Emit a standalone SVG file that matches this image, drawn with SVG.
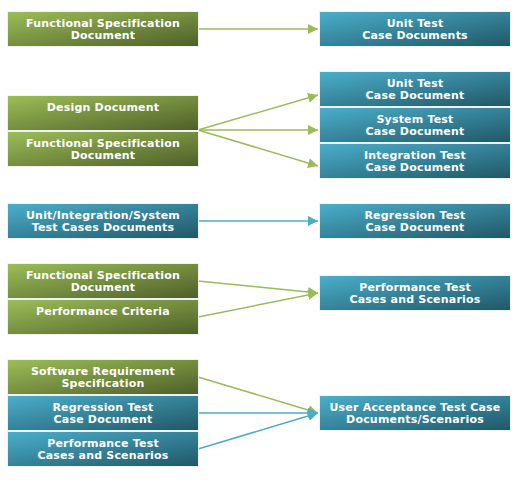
<svg xmlns="http://www.w3.org/2000/svg" width="519" height="489" viewBox="0 0 519 489">
<defs>
<linearGradient id="gG" x1="0" y1="0" x2="1" y2="1"><stop offset="0" stop-color="#9DBE58"/><stop offset="1" stop-color="#4E5F28"/></linearGradient>
<linearGradient id="gB" x1="0" y1="0" x2="1" y2="1"><stop offset="0" stop-color="#4BAFCB"/><stop offset="1" stop-color="#205767"/></linearGradient>
<marker id="aG" viewBox="0 0 10 10" refX="10" refY="5" markerWidth="10" markerHeight="10" markerUnits="userSpaceOnUse" orient="auto"><path d="M0,0 L10,5 L0,10 Z" fill="#9BBB59"/></marker>
<marker id="aB" viewBox="0 0 10 10" refX="10" refY="5" markerWidth="10" markerHeight="10" markerUnits="userSpaceOnUse" orient="auto"><path d="M0,0 L10,5 L0,10 Z" fill="#4BACC6"/></marker>
</defs>
<style>
.g{fill:url(#gG);stroke:#EEF2F4;stroke-width:1}
.b{fill:url(#gB);stroke:#EEF2F4;stroke-width:1}
text{font-family:"DejaVu Sans",Verdana,sans-serif;font-weight:bold;font-size:11px;letter-spacing:0.2px;fill:#FFFFFF;text-anchor:middle}
.cg{stroke:#9BBB59;stroke-width:1.5;fill:none;marker-end:url(#aG)}
.cb{stroke:#4BACC6;stroke-width:1.5;fill:none;marker-end:url(#aB)}
</style>
<rect width="519" height="489" fill="#FFFFFF"/>
<g id="connectors">
<line class="cg" x1="198" y1="29" x2="318" y2="29"/>
<line class="cg" x1="198" y1="130" x2="318" y2="95"/>
<line class="cg" x1="198" y1="130" x2="318" y2="130"/>
<line class="cg" x1="198" y1="130" x2="318" y2="166"/>
<line class="cb" x1="198" y1="221" x2="318" y2="221"/>
<line class="cg" x1="198" y1="281" x2="318" y2="293"/>
<line class="cg" x1="198" y1="317" x2="318" y2="293"/>
<line class="cg" x1="198" y1="377" x2="318" y2="413"/>
<line class="cb" x1="198" y1="413" x2="318" y2="413"/>
<line class="cb" x1="198" y1="449" x2="318" y2="413"/>
</g>
<g id="n1"><rect class="g" x="7.5" y="11.5" width="191" height="35"/><text x="103" y="27">Functional Specification</text><text x="103" y="39">Document</text></g>
<g id="n2"><rect class="b" x="319.5" y="11.5" width="191" height="35"/><text x="415" y="27">Unit Test</text><text x="415" y="39">Case Documents</text></g>
<g id="n3"><rect class="g" x="7.5" y="95.5" width="191" height="35"/><text x="103" y="111">Design Document</text></g>
<g id="n4"><rect class="g" x="7.5" y="131.5" width="191" height="35"/><text x="103" y="147">Functional Specification</text><text x="103" y="159">Document</text></g>
<g id="n5"><rect class="b" x="319.5" y="71.5" width="191" height="35"/><text x="415" y="87">Unit Test</text><text x="415" y="99">Case Document</text></g>
<g id="n6"><rect class="b" x="319.5" y="107.5" width="191" height="35"/><text x="415" y="123">System Test</text><text x="415" y="135">Case Document</text></g>
<g id="n7"><rect class="b" x="319.5" y="143.5" width="191" height="35"/><text x="415" y="159">Integration Test</text><text x="415" y="171">Case Document</text></g>
<g id="n8"><rect class="b" x="7.5" y="203.5" width="191" height="35"/><text x="103" y="219">Unit/Integration/System</text><text x="103" y="231">Test Cases Documents</text></g>
<g id="n9"><rect class="b" x="319.5" y="203.5" width="191" height="35"/><text x="415" y="219">Regression Test</text><text x="415" y="231">Case Document</text></g>
<g id="n10"><rect class="g" x="7.5" y="263.5" width="191" height="35"/><text x="103" y="279">Functional Specification</text><text x="103" y="291">Document</text></g>
<g id="n11"><rect class="g" x="7.5" y="299.5" width="191" height="35"/><text x="103" y="315">Performance Criteria</text></g>
<g id="n12"><rect class="b" x="319.5" y="275.5" width="191" height="35"/><text x="415" y="291">Performance Test</text><text x="415" y="303">Cases and Scenarios</text></g>
<g id="n13"><rect class="g" x="7.5" y="359.5" width="191" height="35"/><text x="103" y="375">Software Requirement</text><text x="103" y="387">Specification</text></g>
<g id="n14"><rect class="b" x="7.5" y="395.5" width="191" height="35"/><text x="103" y="411">Regression Test</text><text x="103" y="423">Case Document</text></g>
<g id="n15"><rect class="b" x="7.5" y="431.5" width="191" height="35"/><text x="103" y="447">Performance Test</text><text x="103" y="459">Cases and Scenarios</text></g>
<g id="n16"><rect class="b" x="319.5" y="395.5" width="191" height="35"/><text x="415" y="411">User Acceptance Test Case</text><text x="415" y="423">Documents/Scenarios</text></g>
</svg>
